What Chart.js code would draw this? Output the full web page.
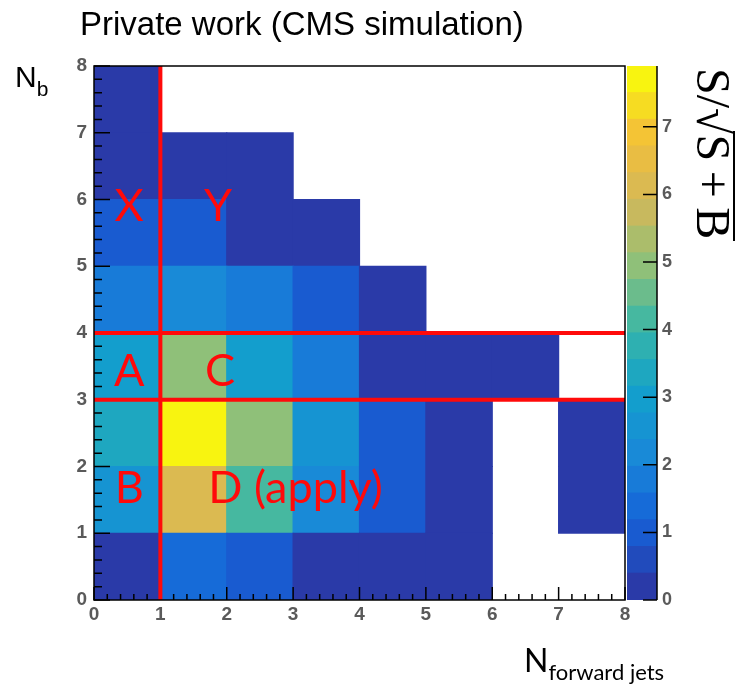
<!DOCTYPE html>
<html><head><meta charset="utf-8">
<script src="https://cdn.jsdelivr.net/npm/chart.js@4"></script>
<style>
html,body{margin:0;padding:0;background:#fff;}
#wrap{position:relative;width:738px;height:685px;overflow:hidden;background:#fff;}
canvas{position:absolute;left:0;top:0;}
.t{position:absolute;white-space:nowrap;color:#000;line-height:1;}
</style></head><body>
<div id="wrap">
<canvas id="main" width="738" height="685"></canvas>
<canvas id="cbar" width="738" height="685"></canvas>
<div class="t" style="left:80px;top:7px;font-family:'Liberation Sans',Arial,sans-serif;font-size:33px;">Private work (CMS simulation)</div>
<div class="t" style="left:15px;top:62px;font-family:'Liberation Sans',Arial,sans-serif;font-size:30px;">N<span style="font-size:21px;position:relative;top:9px;">b</span></div>
<div class="t" style="left:524px;top:644px;font-family:Lato,sans-serif;font-size:32px;">N<span style="font-size:22px;position:relative;top:8px;">forward jets</span></div>
<div id="zlab" class="t" style="left:737px;top:68px;transform-origin:0 0;transform:rotate(90deg);font-family:'Liberation Serif',serif;font-size:48px;line-height:48px;">S/<span id="rad">√</span><span id="arg">S&#8201;+&#8201;B</span><div id="vinc" style="position:absolute;height:2px;background:#000;top:2px;"></div></div>
</div>
<script>
// ---- data ----
const nFwdJetBins = ['0','1','2','3','4','5','6','7'];   // N_forward jets bins (lower edges)
const nbRowEdges  = [0,1,2,3,4,5,6,7];                     // N_b bins (lower edges)
// S/sqrt(S+B) per N_b row, one value per N_forward-jets bin (0 = empty bin)
const ssb_nb0 = [0.2, 1.2, 0.8, 0.2, 0.2, 0.2, 0,   0  ];
const ssb_nb1 = [2.5, 6.0, 4.0, 2.0, 0.8, 0.2, 0,   0.2];
const ssb_nb2 = [3.5, 7.9, 5.0, 2.5, 0.8, 0.2, 0,   0.2];
const ssb_nb3 = [2.9, 5.0, 2.9, 1.7, 0.2, 0.2, 0.2, 0  ];
const ssb_nb4 = [1.7, 2.0, 1.7, 0.8, 0.2, 0,   0,   0  ];
const ssb_nb5 = [0.8, 0.8, 0.2, 0.2, 0,   0,   0,   0  ];
const ssb_nb6 = [0.2, 0.2, 0.2, 0,   0,   0,   0,   0  ];
const ssb_nb7 = [0.2, 0,   0,   0,   0,   0,   0,   0  ];
const axisTicks = [0,1,2,3,4,5,6,7,8];
const zTicks = [0,1,2,3,4,5,6,7];
const zMax = 7.9;
const nLevels = 20;
const cutsX = [1];
const cutsY = [3,4];
const regionLabels = [
  {text:'X', x:0.53, y:5.68, align:'center'},
  {text:'Y', x:1.87, y:5.68, align:'center'},
  {text:'A', x:0.53, y:3.21, align:'center'},
  {text:'C', x:1.90, y:3.21, align:'center'},
  {text:'B', x:0.53, y:1.45, align:'center'},
  {text:'D (apply)', x:1.72, y:1.45, align:'left'}
];

// ---- palette ----
const paletteStops = [
  [0.000,[42,58,168]],[0.127,[21,98,216]],[0.253,[26,136,216]],[0.380,[18,160,204]],
  [0.506,[56,182,168]],[0.633,[144,192,120]],[0.760,[212,184,88]],[0.886,[244,192,56]],[1.000,[248,244,16]]
];
function paletteAt(f){
  f = Math.max(0, Math.min(1, f));
  for (let i=1;i<paletteStops.length;i++){
    if (f <= paletteStops[i][0]){
      const [f0,c0] = paletteStops[i-1], [f1,c1] = paletteStops[i];
      const t = (f-f0)/(f1-f0);
      const c = c0.map((v,k)=>Math.round(v+(c1[k]-v)*t));
      return `rgb(${c[0]},${c[1]},${c[2]})`;
    }
  }
  return 'rgb(248,244,16)';
}
function levelOf(v){ return Math.min(nLevels-1, Math.floor(v/zMax*nLevels)); }
function colorOf(v){ return paletteAt(levelOf(v)/(nLevels-1)); }

const tickFont = {family:"'Liberation Sans', Arial, sans-serif", size:19, weight:'bold'};
const tickColor = '#5a5a5a';

// ---- main 2D histogram ----
const rows = [ssb_nb0, ssb_nb1, ssb_nb2, ssb_nb3, ssb_nb4, ssb_nb5, ssb_nb6, ssb_nb7];
const datasets = rows.map((row, j) => ({
  xAxisID:'xc', yAxisID:'y',
  data: row.map(v => v > 0 ? [nbRowEdges[j], nbRowEdges[j]+1] : null),
  backgroundColor: row.map(v => v > 0 ? colorOf(v) : 'rgba(0,0,0,0)'),
  borderWidth:0, grouped:false, barPercentage:1, categoryPercentage:1, inflateAmount:0.6
}));

const mainDecor = {
  id:'mainDecor',
  afterDatasetsDraw(chart){
    const {ctx, chartArea:a, scales} = chart;
    const x = scales.x, y = scales.y;
    ctx.save();
    // minor/major ticks
    ctx.strokeStyle = '#000'; ctx.lineWidth = 1.5;
    ctx.beginPath();
    for (let i=0;i<=40;i++){
      const v = i/5, major = (i%5===0);
      const px = x.getPixelForValue(v);
      ctx.moveTo(px, a.bottom); ctx.lineTo(px, a.bottom - (major?13:6));
      const py = y.getPixelForValue(v);
      ctx.moveTo(a.left, py); ctx.lineTo(a.left + (major?16:8), py);
    }
    ctx.stroke();
    // red region lines
    ctx.strokeStyle = '#ff0a0a'; ctx.lineWidth = 4;
    ctx.beginPath();
    cutsX.forEach(v => { const px = x.getPixelForValue(v); ctx.moveTo(px, a.top); ctx.lineTo(px, a.bottom); });
    cutsY.forEach(v => { const py = y.getPixelForValue(v); ctx.moveTo(a.left, py); ctx.lineTo(a.right, py); });
    ctx.stroke();
    // frame
    ctx.strokeStyle = '#000'; ctx.lineWidth = 1.5;
    ctx.strokeRect(a.left, a.top, a.right-a.left, a.bottom-a.top);
    // region letters
    ctx.fillStyle = '#ff0a0a';
    ctx.font = "45px Lato, 'Open Sans', sans-serif";
    ctx.textBaseline = 'alphabetic';
    regionLabels.forEach(l => {
      ctx.textAlign = l.align;
      ctx.fillText(l.text, x.getPixelForValue(l.x), y.getPixelForValue(l.y));
    });
    ctx.restore();
  }
};

new Chart(document.getElementById('main'), {
  type:'bar',
  data:{labels:nFwdJetBins, datasets},
  options:{
    responsive:false, animation:false, devicePixelRatio:1,
    layout:{padding:{left:0, top:66, right:113, bottom:0}},
    plugins:{legend:{display:false}, tooltip:{enabled:false}},
    scales:{
      xc:{type:'category', display:false, offset:true},
      x:{type:'linear', position:'bottom', min:0, max:8, offset:false,
         grid:{display:false, drawTicks:false, offset:false}, border:{display:false},
         afterBuildTicks: s => { s.ticks = axisTicks.map(v => ({value:v})); },
         afterFit: s => { s.height = 85; },
         ticks:{padding:3, color:tickColor, font:tickFont, maxRotation:0, autoSkip:false}},
      y:{type:'linear', position:'left', min:0, max:8, offset:false,
         grid:{display:false, drawTicks:false}, border:{display:false},
         afterBuildTicks: s => { s.ticks = axisTicks.map(v => ({value:v})); },
         afterFit: s => { s.width = 94; },
         ticks:{padding:7, color:tickColor, font:tickFont, autoSkip:false}}
    }
  },
  plugins:[mainDecor]
});

// ---- colour bar ----
const zBands = Array.from({length:nLevels}, (_, k) => k);
const cbarDecor = {
  id:'cbarDecor',
  afterDatasetsDraw(chart){
    const {ctx, chartArea:a, scales} = chart;
    const z = scales.z;
    ctx.save();
    ctx.strokeStyle = '#000'; ctx.lineWidth = 1.5;
    ctx.beginPath();
    zTicks.forEach(v => { const py = z.getPixelForValue(v); ctx.moveTo(a.right, py); ctx.lineTo(a.right-14, py); });
    ctx.moveTo(a.right, a.top); ctx.lineTo(a.right, a.bottom);
    ctx.stroke();
    ctx.restore();
  }
};
new Chart(document.getElementById('cbar'), {
  type:'bar',
  data:{labels:['z'], datasets: zBands.map(k => ({
    xAxisID:'zc', yAxisID:'z',
    data:[[k*zMax/nLevels, (k+1)*zMax/nLevels]],
    backgroundColor: paletteAt(k/(nLevels-1)),
    borderWidth:0, grouped:false, barPercentage:1, categoryPercentage:1, inflateAmount:0.6
  }))},
  options:{
    responsive:false, animation:false, devicePixelRatio:1,
    layout:{padding:{left:627, top:66, right:0, bottom:85}},
    plugins:{legend:{display:false}, tooltip:{enabled:false}},
    scales:{
      zc:{type:'category', display:false, offset:true},
      z:{type:'linear', position:'right', min:0, max:zMax,
         grid:{display:false, drawTicks:false}, border:{display:false},
         afterBuildTicks: s => { s.ticks = zTicks.map(v => ({value:v})); },
         afterFit: s => { s.width = 81; },
         ticks:{padding:5, color:tickColor, font:{family:"'Liberation Sans', Arial, sans-serif", size:18, weight:'bold'}, autoSkip:false}}
    }
  },
  plugins:[cbarDecor]
});

// vinculum of the square root in the colour-bar title
const rad = document.getElementById('rad'), arg = document.getElementById('arg'), vinc = document.getElementById('vinc');
const vStart = rad.offsetLeft + rad.offsetWidth - 3;
vinc.style.left = vStart + 'px';
vinc.style.width = (arg.offsetLeft + arg.offsetWidth - vStart + 2) + 'px';
</script>
</body></html>
